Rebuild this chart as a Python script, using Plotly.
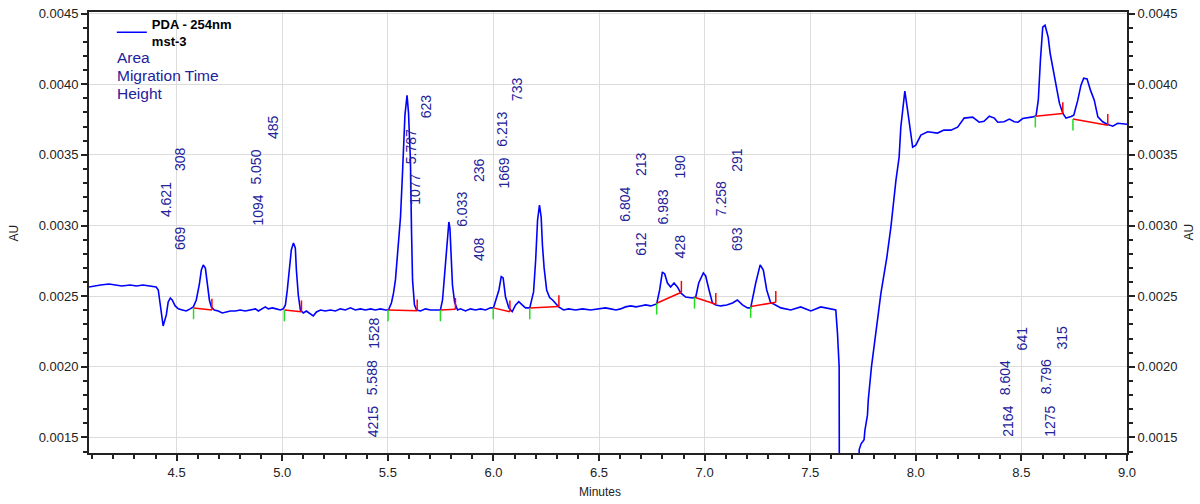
import plotly.graph_objects as go

# ---------------- data ----------------
time_min = [
    4.085, 4.110, 4.140, 4.180, 4.210, 4.240, 4.280, 4.310, 4.340, 4.375, 4.403, 4.413, 4.422, 4.436,
    4.451, 4.460, 4.470, 4.479, 4.493, 4.508, 4.527, 4.545, 4.564, 4.579,
    4.593, 4.607, 4.617, 4.626, 4.636, 4.645, 4.655, 4.664, 4.678, 4.697, 4.716, 4.735, 4.754, 4.778,
    4.801, 4.825, 4.849, 4.873, 4.887, 4.906, 4.920, 4.934, 4.953, 4.972, 4.991, 5.005,
    5.015, 5.024, 5.034, 5.043, 5.053, 5.062, 5.067, 5.076, 5.086, 5.100, 5.114, 5.133, 5.147, 5.162,
    5.181, 5.204, 5.228, 5.252, 5.275, 5.299, 5.323, 5.346, 5.370, 5.394, 5.418, 5.441, 5.465, 5.489, 5.503,
    5.517, 5.527, 5.536, 5.545, 5.550, 5.560, 5.569, 5.574, 5.581, 5.591, 5.598, 5.602, 5.607, 5.612,
    5.617, 5.626, 5.636, 5.655, 5.678, 5.702, 5.726, 5.749,
    5.759, 5.768, 5.778, 5.782, 5.789, 5.794, 5.797, 5.801, 5.806, 5.816, 5.830, 5.844, 5.868, 5.891,
    5.915, 5.939, 5.963, 5.986, 6.000,
    6.026, 6.037, 6.046, 6.057, 6.073, 6.089, 6.105, 6.120, 6.136, 6.152, 6.172,
    6.190, 6.200, 6.209, 6.218, 6.226, 6.232, 6.240, 6.252, 6.266, 6.280, 6.309, 6.332, 6.356,
    6.389, 6.422, 6.460, 6.508, 6.530, 6.555, 6.580, 6.602, 6.625, 6.650, 6.675, 6.697, 6.720, 6.745, 6.773,
    6.787, 6.800, 6.811, 6.824, 6.839, 6.855, 6.871, 6.887, 6.910, 6.942, 6.958,
    6.972, 6.994, 7.005, 7.021, 7.037, 7.053, 7.076, 7.105, 7.132, 7.155, 7.179, 7.203, 7.218,
    7.242, 7.263, 7.278, 7.294, 7.313, 7.327, 7.361, 7.408, 7.455, 7.503, 7.550, 7.588, 7.621,
    7.629, 7.637, 7.638, 7.729, 7.732, 7.741, 7.755, 7.759, 7.771, 7.775,
    7.790, 7.819, 7.835, 7.863, 7.882, 7.906, 7.921, 7.929, 7.948, 7.961, 7.985, 8.000, 8.024, 8.056,
    8.103, 8.133, 8.166, 8.198, 8.229, 8.269, 8.300, 8.323, 8.348, 8.372, 8.388, 8.418, 8.443, 8.466,
    8.484, 8.506, 8.527, 8.554, 8.569,
    8.580, 8.590, 8.601, 8.612, 8.627, 8.636, 8.648, 8.664, 8.680, 8.696, 8.711, 8.735, 8.748,
    8.767, 8.782, 8.795, 8.811, 8.827, 8.845, 8.862, 8.885, 8.906, 8.933, 8.956, 9.000,
]
absorbance_au = [
    0.002565, 0.002572, 0.002579, 0.002586, 0.002579, 0.002572, 0.002579, 0.002572, 0.002579, 0.002572,
    0.002565, 0.002544, 0.002440, 0.002289,
    0.002367, 0.002459, 0.002487, 0.002473, 0.002431, 0.002410, 0.002402, 0.002395, 0.002410, 0.002424,
    0.002473, 0.002579, 0.002685, 0.002721, 0.002699, 0.002579, 0.002473, 0.002424, 0.002402, 0.002395,
    0.002381, 0.002388, 0.002395, 0.002395,
    0.002402, 0.002395, 0.002402, 0.002410, 0.002395, 0.002410, 0.002424, 0.002410, 0.002417, 0.002410,
    0.002402, 0.002410,
    0.002438, 0.002544, 0.002685, 0.002827, 0.002876, 0.002841, 0.002685, 0.002508, 0.002402, 0.002381,
    0.002395, 0.002374, 0.002360, 0.002388,
    0.002402, 0.002395, 0.002402, 0.002395, 0.002410, 0.002402, 0.002417, 0.002402, 0.002410, 0.002402,
    0.002410, 0.002402, 0.002410, 0.002402, 0.002402,
    0.002452, 0.002523, 0.002615, 0.002777, 0.002862, 0.003060, 0.003357, 0.003604, 0.003781, 0.003922,
    0.003795, 0.003640, 0.003463, 0.002968,
    0.002615, 0.002438, 0.002402, 0.002395, 0.002410, 0.002402, 0.002402, 0.002402,
    0.002473, 0.002650, 0.002862, 0.002954, 0.003025, 0.002982, 0.002897, 0.002721, 0.002579, 0.002459,
    0.002402, 0.002410, 0.002395, 0.002410,
    0.002402, 0.002410, 0.002402, 0.002417, 0.002417,
    0.002544, 0.002638, 0.002629, 0.002496, 0.002417, 0.002390, 0.002438, 0.002461, 0.002438, 0.002417,
    0.002417,
    0.002530, 0.002756, 0.003039, 0.003145, 0.003060, 0.002862, 0.002700, 0.002544, 0.002490, 0.002473,
    0.002424, 0.002402, 0.002410,
    0.002402, 0.002410, 0.002402, 0.002410, 0.002417, 0.002410, 0.002402, 0.002410, 0.002424, 0.002431,
    0.002424, 0.002431, 0.002438, 0.002431, 0.002445,
    0.002544, 0.002671, 0.002657, 0.002593, 0.002565, 0.002593, 0.002565, 0.002523, 0.002494, 0.002487,
    0.002494,
    0.002593, 0.002664, 0.002643, 0.002544, 0.002452, 0.002438, 0.002431, 0.002438, 0.002452, 0.002473,
    0.002438, 0.002417, 0.002417,
    0.002593, 0.002721, 0.002685, 0.002544, 0.002452, 0.002445, 0.002417, 0.002402, 0.002424, 0.002395,
    0.002424, 0.002410, 0.002402,
    0.002240, 0.002000, 0.001100, 0.001100, 0.001414, 0.001455, 0.001484, 0.001550, 0.001658, 0.001767,
    0.002000, 0.002332, 0.002523, 0.002777, 0.002989, 0.003321, 0.003484, 0.003696, 0.003951, 0.003816,
    0.003555, 0.003569, 0.003640, 0.003663,
    0.003654, 0.003675, 0.003675, 0.003696, 0.003760, 0.003767, 0.003731, 0.003738, 0.003774, 0.003760,
    0.003731, 0.003734, 0.003753, 0.003734,
    0.003731, 0.003757, 0.003760, 0.003769, 0.003774,
    0.003887, 0.004170, 0.004403, 0.004417, 0.004332, 0.004219, 0.004120, 0.004007, 0.003866, 0.003795,
    0.003760, 0.003771, 0.003781,
    0.003887, 0.003993, 0.004042, 0.004037, 0.003958, 0.003887, 0.003769, 0.003734, 0.003717, 0.003703,
    0.003724, 0.003717,
]

# peak table
peak_time = [4.621, 5.050, 5.588, 5.787, 6.033, 6.213, 6.804, 6.983, 7.258, 8.604, 8.796]
peak_area = [669, 1094, 4215, 1077, 408, 1669, 612, 428, 693, 2164, 1275]
peak_height = [308, 485, 1528, 623, 236, 733, 213, 190, 291, 641, 315]

# integration baseline events (start / end of each peak)
base_start_t = [4.580, 5.010, 5.501, 5.749, 5.999, 6.172, 6.773, 6.952, 7.218, 8.566, 8.744]
base_start_v = [0.002417, 0.002402, 0.002402, 0.002402, 0.002417, 0.002417, 0.002450, 0.002492, 0.002426, 0.003774, 0.003753]
base_end_t = [4.667, 5.091, 5.639, 5.820, 6.078, 6.310, 6.890, 7.053, 7.337, 8.696, 8.909]
base_end_v = [0.002402, 0.002390, 0.002397, 0.002407, 0.002390, 0.002426, 0.002528, 0.002443, 0.002457, 0.003793, 0.003710]

# label placement (minutes, AU) for each peak's three rotated labels
lab_mt_x = [4.449, 4.876, 5.426, 5.607, 5.854, 6.040, 6.625, 6.805, 7.077, 8.426, 8.617]
lab_mt_y = [0.003186, 0.003410, 0.001920, 0.003557, 0.003115, 0.003684, 0.003150, 0.003131, 0.003192, 0.001925, 0.001927]
lab_area_x = [4.519, 4.887, 5.433, 5.625, 5.929, 6.052, 6.699, 6.882, 7.154, 8.437, 8.634]
lab_area_y = [0.002909, 0.003108, 0.001613, 0.003254, 0.002836, 0.003371, 0.002871, 0.002850, 0.002906, 0.001612, 0.001616]
lab_h_x = [4.519, 4.954, 5.433, 5.682, 5.929, 6.113, 6.699, 6.882, 7.154, 8.502, 8.692]
lab_h_y = [0.003468, 0.003693, 0.002238, 0.003846, 0.003396, 0.003967, 0.003436, 0.003415, 0.003466, 0.002200, 0.002207]

x_range = [4.085, 9.0]
y_range = [0.00139, 0.004511]
y_ticks = [0.0015, 0.0020, 0.0025, 0.0030, 0.0035, 0.0040, 0.0045]
x_ticks = [4.5, 5.0, 5.5, 6.0, 6.5, 7.0, 7.5, 8.0, 8.5, 9.0]

# ---------------- styling ----------------
FONT = "Liberation Sans, Arial, sans-serif"
NAVY = "#22229a"
TICK_LEN = 0.00008

fig = go.Figure()

fig.add_trace(go.Scatter(
    x=time_min, y=absorbance_au, mode="lines",
    line=dict(color="#0000ff", width=1.6),
    name="<b>PDA - 254nm<br>mst-3</b>", showlegend=True, hoverinfo="skip",
))

# red integration baselines and end ticks
rx, ry = [], []
for t0, v0, t1, v1 in zip(base_start_t, base_start_v, base_end_t, base_end_v):
    rx += [t0, t1, None, t1, t1, None]
    ry += [v0, v1, None, v1, v1 + TICK_LEN, None]
fig.add_trace(go.Scatter(x=rx, y=ry, mode="lines", line=dict(color="#ff0000", width=1.5),
                         showlegend=False, hoverinfo="skip"))

# green start ticks
gx, gy = [], []
for t0, v0 in zip(base_start_t, base_start_v):
    gx += [t0, t0, None]
    gy += [v0, v0 - TICK_LEN, None]
fig.add_trace(go.Scatter(x=gx, y=gy, mode="lines", line=dict(color="#22dd22", width=1.5),
                         showlegend=False, hoverinfo="skip"))

# invisible trace to hold the right-hand axis
fig.add_trace(go.Scatter(x=[x_range[0]], y=[y_range[0]], yaxis="y2", mode="markers",
                         marker=dict(opacity=0), showlegend=False, hoverinfo="skip"))

ann = []
for i in range(len(peak_time)):
    for tx, ty, txt in (
        (lab_area_x[i], lab_area_y[i], str(peak_area[i])),
        (lab_mt_x[i], lab_mt_y[i], f"{peak_time[i]:.3f}"),
        (lab_h_x[i], lab_h_y[i], str(peak_height[i])),
    ):
        ann.append(dict(x=tx, y=ty, xref="x", yref="y", text=txt, textangle=-90, showarrow=False,
                        xanchor="center", yanchor="middle",
                        font=dict(family=FONT, size=14, color=NAVY)))

for txt, yy in (("Area", 0.8968), ("Migration Time", 0.8565), ("Height", 0.8163)):
    ann.append(dict(x=0.0246, y=yy, xref="paper", yref="paper", text=txt, showarrow=False,
                    xanchor="left", yanchor="middle", font=dict(family=FONT, size=15.5, color=NAVY)))

ann.append(dict(x=0.492, y=-0.088, xref="paper", yref="paper", text="Minutes", showarrow=False,
                xanchor="center", yanchor="middle", font=dict(family=FONT, size=12, color="#222")))
ann.append(dict(x=-0.0723, y=0.5, xref="paper", yref="paper", text="AU", showarrow=False, textangle=-90,
                xanchor="center", yanchor="middle", font=dict(family=FONT, size=12, color="#222")))
ann.append(dict(x=1.0588, y=0.5, xref="paper", yref="paper", text="AU", showarrow=False, textangle=-90,
                xanchor="center", yanchor="middle", font=dict(family=FONT, size=12, color="#222")))

axis_common = dict(
    showline=True, linecolor="#222222", linewidth=2, ticks="outside", ticklen=6, tickwidth=1.5,
    tickcolor="#222222", showgrid=True, gridcolor="#dcdcdc", gridwidth=1, zeroline=False,
    automargin=False, ticklabeloverflow="allow",
    tickfont=dict(family=FONT, size=13, color="#222222"),
)

fig.update_layout(
    width=1200, height=504,
    margin=dict(l=89, r=73, t=12, b=51, autoexpand=False),
    paper_bgcolor="white", plot_bgcolor="white",
    font=dict(family=FONT),
    xaxis=dict(range=x_range, tickvals=x_ticks, tickformat=".1f", mirror=True,
               minor=dict(dtick=0.1, tick0=4.0, ticks="outside", ticklen=4, tickcolor="#222222", showgrid=False),
               **axis_common),
    yaxis=dict(range=y_range, tickvals=y_ticks, tickformat=".4f",
               minor=dict(dtick=0.0001, tick0=0.0, ticks="outside", ticklen=4, tickcolor="#222222", showgrid=False),
               **axis_common),
    yaxis2=dict(range=y_range, tickvals=y_ticks, tickformat=".4f", overlaying="y", side="right",
                minor=dict(dtick=0.0001, tick0=0.0, ticks="outside", ticklen=4, tickcolor="#222222", showgrid=False),
                **{**axis_common, "showgrid": False}),
    legend=dict(x=0.022, y=1.007, xanchor="left", yanchor="top", bgcolor="rgba(0,0,0,0)",
                font=dict(family=FONT, size=13, color="black"), valign="middle", tracegroupgap=0),
    annotations=ann,
    showlegend=True,
)

# remove the browser's default 8px page margin so the figure sits at the window's corner
fig.write_html("out.html", config={"displayModeBar": False},
               post_script="document.body.style.margin='0';")
